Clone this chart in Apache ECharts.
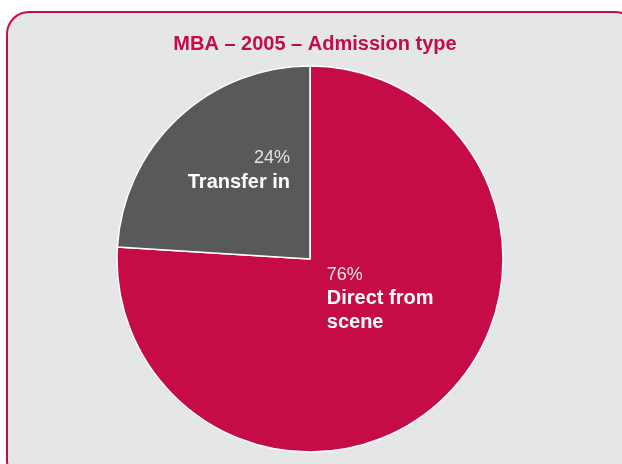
<!DOCTYPE html>
<html>
<head>
<meta charset="utf-8">
<script src="https://cdn.jsdelivr.net/npm/echarts@6/dist/echarts.min.js"></script>
<style>
  html, body { margin: 0; padding: 0; background: #ffffff; }
</style>
</head>
<body>
<div id="chart" style="width: 622px; height: 464px"></div>
<script>
  var titleText = 'MBA \u2013 2005 \u2013 Admission type';
  var categories = ['Direct from\nscene', 'Transfer in'];
  var values = [76, 24];
  var colors = ['#c60c46', '#59595b'];

  var chart = echarts.init(document.getElementById('chart'));

  // label placement tweaks relative to the default "inside" spot
  var labelTweaks = [
    { align: 'left', offset: [2, -33] },
    { align: 'right', offset: [-3, -16] }
  ];

  var pieData = values.map(function (v, i) {
    return {
      name: categories[i],
      value: v,
      itemStyle: { color: colors[i] },
      label: {
        align: labelTweaks[i].align,
        offset: labelTweaks[i].offset,
        rich: {
          p: { fontSize: 18, color: '#e4e4e4', fontFamily: 'Liberation Sans', align: labelTweaks[i].align, lineHeight: 24 },
          n: { fontSize: 20, color: '#ffffff', fontWeight: 'bold', fontFamily: 'Liberation Sans', align: labelTweaks[i].align, lineHeight: 24 }
        }
      }
    };
  });

  var option = {
    backgroundColor: '#ffffff',
    animation: false,
    graphic: [
      {
        type: 'rect',
        z: -10,
        silent: true,
        shape: { x: 7, y: 12, width: 630, height: 470, r: 22 },
        style: { fill: '#e5e6e8', stroke: '#c60c46', lineWidth: 2 }
      }
    ],
    title: {
      text: titleText,
      left: 310,
      textAlign: 'center',
      top: 29,
      textStyle: { color: '#c60c46', fontSize: 20, fontWeight: 'bold', fontFamily: 'Liberation Sans' }
    },
    series: [
      {
        type: 'pie',
        center: [310, 259],
        radius: [0, 193],
        startAngle: 90,
        clockwise: true,
        itemStyle: { borderColor: '#ffffff', borderWidth: 1.5 },
        labelLine: { show: false },
        emphasis: { disabled: true },
        label: {
          show: true,
          position: 'inside',
          formatter: function (p) {
            var lines = p.name.split('\n').map(function (s) { return '{n|' + s + '}'; });
            return '{p|' + p.value + '%}\n' + lines.join('\n');
          }
        },
        data: pieData
      }
    ]
  };

  chart.setOption(option);
</script>
</body>
</html>
